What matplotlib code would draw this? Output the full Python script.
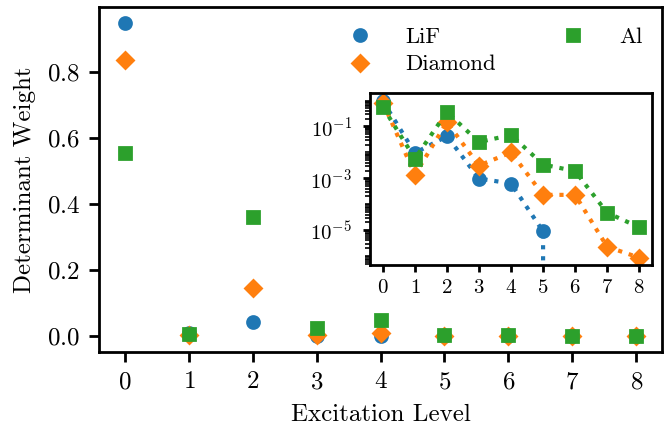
import numpy as np
import matplotlib
matplotlib.use('Agg')
import matplotlib.pyplot as plt
from matplotlib.ticker import LogLocator, NullFormatter

plt.rcParams['font.family'] = 'serif'
plt.rcParams['font.serif'] = ['cmr10']
plt.rcParams['mathtext.fontset'] = 'cm'
plt.rcParams['axes.formatter.use_mathtext'] = True
plt.rcParams['axes.unicode_minus'] = False
plt.rcParams['font.size'] = 9
plt.rcParams['axes.linewidth'] = 1.0
plt.rcParams['xtick.major.width'] = 1.0
plt.rcParams['ytick.major.width'] = 1.0

# excitation levels and determinant weights
levels = [0, 1, 2, 3, 4, 5, 6, 7, 8]
lif = [0.948, 0.0095, 0.042, 0.00098, 0.00063, 9e-6, 0.0, 0.0, 0.0]
diamond = [0.836, 0.0014, 0.145, 0.0031, 0.010, 0.00023, 0.00023, 2.3e-6, 8.7e-7]
al = [0.555, 0.0058, 0.36, 0.025, 0.047, 0.0034, 0.0019, 4.7e-5, 1.3e-5]

names = ['LiF', 'Diamond', 'Al']
markers = ['o', 'D', 's']
colors = ['#1f77b4', '#ff7f0e', '#2ca02c']
series = [lif, diamond, al]
ms = 4.3

fig = plt.figure(figsize=(3.34, 2.14), dpi=200)
ax = fig.add_axes([0.1487, 0.1787, 0.842, 0.8043])

for y, name, mk, col in zip(series, names, markers, colors):
    ax.plot(levels, y, linestyle='none', marker=mk, color=col, ms=ms, label=name)

ax.set_xticks(levels)
ax.set_yticks([0.0, 0.2, 0.4, 0.6, 0.8])
ax.set_xlabel('Excitation Level')
ax.set_ylabel('Determinant Weight')
ax.legend(loc='upper right', ncol=2, frameon=False, fontsize=8.2,
          handletextpad=1.0, columnspacing=2.4, labelspacing=0.35,
          borderaxespad=0.45)

# inset, log scale
axin = fig.add_axes([0.554, 0.3797, 0.422, 0.4023])
for y, name, mk, col in zip(series, names, markers, colors):
    axin.plot(levels, y, linestyle=':', marker=mk, color=col, ms=ms)
axin.set_yscale('log')
axin.set_xticks(levels)
axin.set_yticks([1e-1, 1e-3, 1e-5])
axin.yaxis.set_minor_locator(LogLocator(base=10, subs=np.arange(1, 10), numticks=100))
axin.yaxis.set_minor_formatter(NullFormatter())
axin.tick_params(axis='both', which='major', labelsize=7.5, length=2.5, width=1.0, pad=2.5)
axin.tick_params(axis='y', which='major', pad=4)
axin.tick_params(axis='y', which='minor', length=1.7, width=0.6)

fig.savefig('out.png', dpi=200)
